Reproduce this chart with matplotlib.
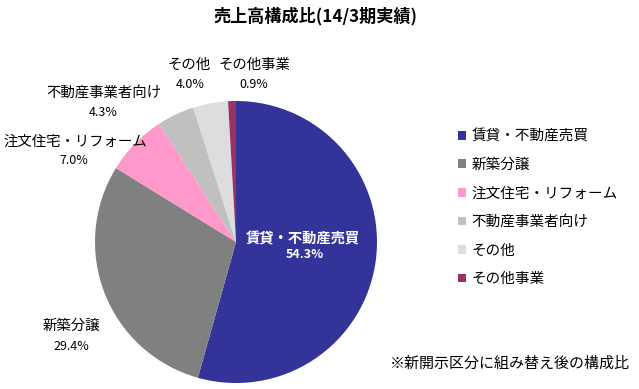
import matplotlib.pyplot as plt
from matplotlib.patches import Patch

plt.rcParams['font.family'] = ['Noto Sans CJK JP', 'DejaVu Sans']

W, H = 639, 389

title = '売上高構成比(14/3期実績)'
categories = ['賃貸・不動産売買', '新築分譲', '注文住宅・リフォーム',
              '不動産事業者向け', 'その他', 'その他事業']
shares = [54.3, 29.4, 7.0, 4.3, 4.0, 0.9]
colors = ['#333399', '#808080', '#FF99CC', '#C0C0C0', '#DDDDDD', '#993366']
note = '※新開示区分に組み替え後の構成比'

# label positions in pixels (name, value) for each slice
label_pos = [((303, 239), (305, 255)),
             ((71, 326), (71, 347)),
             ((75, 142), (74, 161)),
             ((104, 93), (103, 113)),
             ((189, 65), (190, 85)),
             ((254, 65), (254, 85))]


def px(x, y):
    return x / W, 1 - y / H


fig = plt.figure(figsize=(W / 100, H / 100), dpi=100)

# pie: centre (236, 242) px, radius 141 px
cx, cy, r = 236, 242, 141
ax = fig.add_axes([(cx - r) / W, 1 - (cy + r) / H, 2 * r / W, 2 * r / H])
wedges, _ = ax.pie(shares, colors=colors, startangle=90, counterclock=False,
                   radius=1.0)
ax.set_xlim(-1, 1)
ax.set_ylim(-1, 1)
ax.set_aspect('auto')
ax.axis('off')

fig.text(*px(315, 16), title, ha='center', va='center', fontsize=12.3,
         fontweight='bold')

for i, (name, val) in enumerate(zip(categories, shares)):
    (nx, ny), (vx, vy) = label_pos[i]
    if i == 0:
        fig.text(*px(nx, ny), name, ha='center', va='center', fontsize=10.3,
                 color='white', fontweight='bold')
        fig.text(*px(vx, vy), f'{val:.1f}%', ha='center', va='center',
                 fontsize=9, color='white', fontweight='bold')
    else:
        fig.text(*px(nx, ny), name, ha='center', va='center', fontsize=10.4)
        fig.text(*px(vx, vy), f'{val:.1f}%', ha='center', va='center',
                 fontsize=9)

handles = [Patch(facecolor=c, edgecolor='none') for c in colors]
fig.legend(handles, categories, loc='upper left',
           bbox_to_anchor=px(451, 122), frameon=False, fontsize=10.5,
           handlelength=0.55, handleheight=0.55, handletextpad=0.35,
           labelspacing=1.0, borderpad=0)

fig.text(*px(390, 364), note, ha='left', va='center', fontsize=10.8)

fig.savefig('out.png', dpi=100)
